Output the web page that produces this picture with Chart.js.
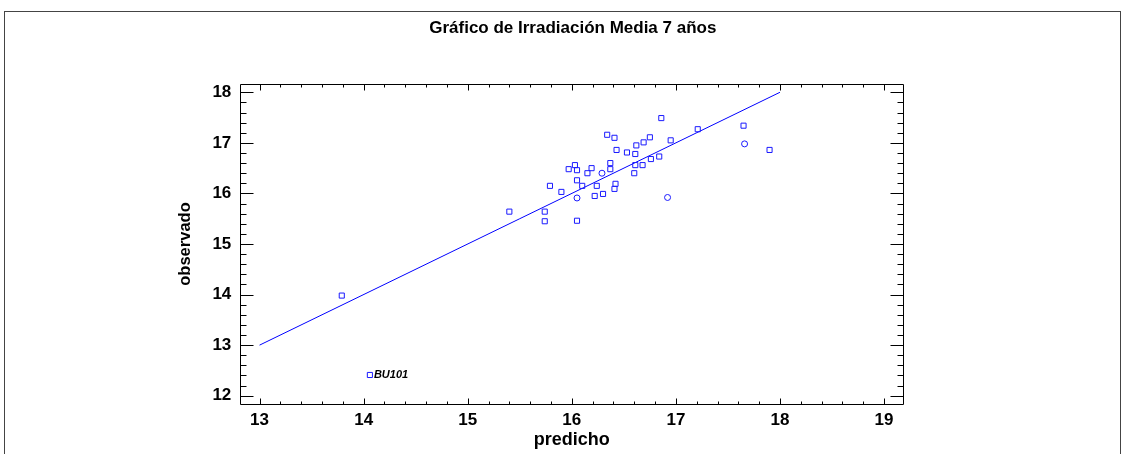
<!DOCTYPE html>
<html>
<head>
<meta charset="utf-8">
<title>Gráfico de Irradiación Media 7 años</title>
<style>
  html, body { margin: 0; padding: 0; background: #fff; }
  #wrap { position: relative; width: 1122px; height: 454px; overflow: hidden; }
  #frame { position: absolute; left: 4px; top: 11px; width: 1115px; height: 460px;
           border-left: 1px solid #444; border-top: 1px solid #444; border-right: 1px solid #444; pointer-events: none; }
  canvas { display: block; }
</style>
<script src="https://cdn.jsdelivr.net/npm/chart.js@4.4.1/dist/chart.umd.min.js"></script>
</head>
<body>
<div id="wrap">
  <canvas id="chart" width="1122" height="454"></canvas>
  <div id="frame"></div>
</div>
<script>
// Observed vs. predicted mean irradiation (7 years)
const predicho = [
  16.86, 17.21, 16.95, 16.34, 16.41, 16.75, 16.69, 16.62, 16.43, 16.53,
  16.61, 16.76, 16.84, 16.03, 15.97, 16.05, 16.19, 16.15, 16.29, 16.37,
  16.37, 16.61, 16.68, 16.60, 16.05, 16.10, 16.24, 16.42, 16.41, 15.79,
  15.90, 16.22, 16.30, 16.05, 16.92, 15.74, 15.74, 16.05, 15.40, 13.79,
  17.65, 17.66, 17.90, 14.06
];
const observado = [
  17.49, 17.27, 17.05, 17.16, 17.10, 17.11, 17.01, 16.95, 16.86, 16.81,
  16.78, 16.68, 16.73, 16.56, 16.48, 16.46, 16.50, 16.40, 16.40, 16.60,
  16.48, 16.56, 16.56, 16.40, 16.26, 16.15, 16.15, 16.19, 16.09, 16.15,
  16.03, 15.95, 15.99, 15.91, 15.92, 15.64, 15.45, 15.46, 15.64, 13.98,
  17.34, 16.98, 16.86, 12.41
];
const marcador = [
  'rect', 'rect', 'rect', 'rect', 'rect', 'rect', 'rect', 'rect', 'rect', 'rect',
  'rect', 'rect', 'rect', 'rect', 'rect', 'rect', 'rect', 'rect', 'circle', 'rect',
  'rect', 'rect', 'rect', 'rect', 'rect', 'rect', 'rect', 'rect', 'rect', 'rect',
  'rect', 'rect', 'rect', 'circle', 'circle', 'rect', 'rect', 'rect', 'rect', 'rect',
  'rect', 'circle', 'rect', 'rect'
];
// Labelled observation
const etiquetaX = [14.06];
const etiquetaY = [12.41];
const etiquetaTexto = ['BU101'];
// Reference line observado = predicho
const lineaX = [13, 18];
const lineaY = [13, 18];
// Axis ticks
const ticksX = [13, 14, 15, 16, 17, 18, 19];
const ticksY = [12, 13, 14, 15, 16, 17, 18];
const rangoX = [12.815, 19.185];
const rangoY = [11.83, 18.17];
const titulo = 'Gráfico de Irradiación Media 7 años';

const FONT = '"Liberation Sans", Arial, sans-serif';
const BLUE = '#1a1aff';

const puntos = predicho.map((x, i) => ({ x, y: observado[i] }));
const linea = lineaX.map((x, i) => ({ x, y: lineaY[i] }));

// Box around the plot area with inward major/minor tick marks, title and point label
const marcoPlugin = {
  id: 'marco',
  afterDatasetsDraw(chart) {
    const { ctx, chartArea: a, scales: { x, y } } = chart;
    ctx.save();
    ctx.strokeStyle = '#000';
    ctx.lineWidth = 1;
    ctx.beginPath();
    const L = Math.round(a.left) + 0.5, R = Math.round(a.right) + 0.5;
    const T = Math.round(a.top) + 0.5, B = Math.round(a.bottom) + 0.5;
    ctx.rect(L, T, R - L, B - T);
    for (let v = ticksX[0]; v <= ticksX[ticksX.length - 1] + 1e-9; v += 0.2) {
      const major = Math.abs(v - Math.round(v)) < 1e-6;
      const len = major ? 6 : 3;
      const px = Math.round(x.getPixelForValue(v)) + 0.5;
      ctx.moveTo(px, B); ctx.lineTo(px, B - len);
      ctx.moveTo(px, T); ctx.lineTo(px, T + len);
    }
    for (let v = ticksY[0]; v <= ticksY[ticksY.length - 1] + 1e-9; v += 0.2) {
      const major = Math.abs(v - Math.round(v)) < 1e-6;
      const len = major ? 13 : 6;
      const py = Math.round(y.getPixelForValue(v)) + 0.5;
      ctx.moveTo(L, py); ctx.lineTo(L + len, py);
      ctx.moveTo(R, py); ctx.lineTo(R - len, py);
    }
    ctx.stroke();

    // chart title, centred over the plot area
    ctx.fillStyle = '#000';
    ctx.font = 'bold 17px ' + FONT;
    ctx.textAlign = 'center';
    ctx.textBaseline = 'middle';
    ctx.fillText(titulo, (a.left + a.right) / 2 + 1, 28);

    // point label
    ctx.font = 'italic bold 11px "Liberation Sans Narrow", ' + FONT;
    ctx.textBaseline = 'middle';
    ctx.textAlign = 'left';
    etiquetaTexto.forEach((t, i) => {
      const px = x.getPixelForValue(etiquetaX[i]) + 4;
      const py = y.getPixelForValue(etiquetaY[i]);
      ctx.fillText(t, px, py);
    });
    ctx.restore();
  }
};

new Chart(document.getElementById('chart'), {
  type: 'scatter',
  data: {
    datasets: [
      {
        data: puntos,
        pointStyle: marcador,
        pointRadius: marcador.map(m => (m === 'circle' ? 3 : 3.6)),
        pointBorderWidth: 1,
        pointBorderColor: BLUE,
        pointBackgroundColor: 'rgba(0,0,0,0)',
        showLine: false
      },
      {
        type: 'line',
        data: linea,
        borderColor: '#0000ff',
        borderWidth: 1,
        pointRadius: 0,
        fill: false
      }
    ]
  },
  options: {
    responsive: false,
    animation: false,
    devicePixelRatio: 1,
    events: [],
    layout: { padding: { left: 0, right: 218.7, top: 83.7, bottom: 0 } },
    plugins: {
      legend: { display: false },
      tooltip: { enabled: false },
      title: { display: false }
    },
    scales: {
      x: {
        type: 'linear',
        position: 'bottom',
        min: rangoX[0],
        max: rangoX[1],
        grid: { display: false, drawTicks: false },
        border: { display: false },
        afterBuildTicks: s => { s.ticks = ticksX.map(v => ({ value: v })); },
        afterFit: s => { s.height = 454 - 404.3; },
        ticks: {
          color: '#000',
          padding: 6,
          font: { family: FONT, size: 17, weight: 'bold' },
          callback: v => String(v)
        },
        title: {
          display: true,
          text: 'predicho',
          color: '#000',
          font: { family: FONT, size: 18, weight: 'bold' },
          padding: { top: 0, bottom: 3.5 }
        }
      },
      y: {
        type: 'linear',
        position: 'left',
        min: rangoY[0],
        max: rangoY[1],
        grid: { display: false, drawTicks: false },
        border: { display: false },
        afterBuildTicks: s => { s.ticks = ticksY.map(v => ({ value: v })); },
        afterFit: s => { s.width = 240.3; },
        ticks: {
          color: '#000',
          padding: 9,
          font: { family: FONT, size: 17, weight: 'bold' },
          callback: v => String(v)
        },
        title: {
          display: true,
          text: 'observado',
          color: '#000',
          font: { family: FONT, size: 16.5, weight: 'bold' },
          padding: { top: 176, bottom: 0 }
        }
      }
    }
  },
  plugins: [marcoPlugin]
});
</script>
</body>
</html>
